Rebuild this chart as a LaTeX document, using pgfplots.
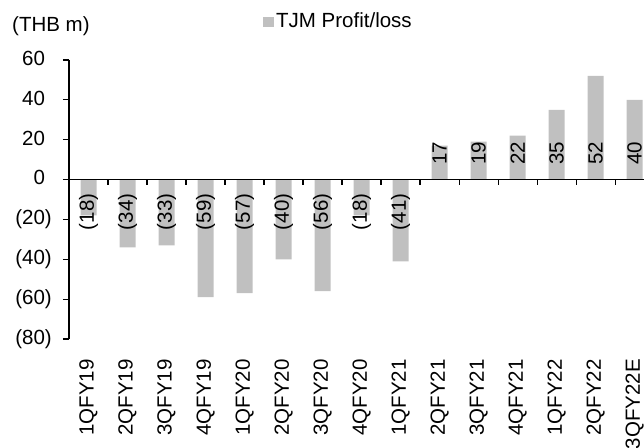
\documentclass[border=0pt]{standalone}
\usepackage{pgfplots}
\pgfplotsset{compat=1.18}
\usepackage{fontspec}
\setmainfont{Liberation Sans}
\definecolor{barc}{HTML}{C0C0C0}
\begin{document}
\fontsize{20.5}{24}\selectfont
\begin{tikzpicture}
\useasboundingbox (-69pt,-108pt) rectangle (575pt,339pt);
\pgfplotsset{
  base/.style={
    scale only axis, width=575pt, height=279pt,
    xmin=-0.5, xmax=14.24, ymin=-80, ymax=60,
    /pgf/number format/assume math mode=true,
  }
}
\begin{axis}[base, at={(0,0)}, anchor=south west,
  axis y line=left, axis x line=bottom,
  x axis line style={draw=none},
  y axis line style={line width=1.2pt, -},
  xtick={0,...,14}, xtick style={draw=none},
  xticklabels={1QFY19,2QFY19,3QFY19,4QFY19,1QFY20,2QFY20,3QFY20,4QFY20,1QFY21,2QFY21,3QFY21,4QFY21,1QFY22,2QFY22,3QFY22E},
  xticklabel style={yshift=-14pt, rotate=90, anchor=east, inner sep=0pt},
  ytick={-80,-60,...,60},
  ytick style={line width=1.2pt, black},
  tick align=outside, major tick length=6pt,
  yticklabel={\pgfmathparse{abs(\tick)}\ifdim\tick pt<0pt (\pgfmathprintnumber[fixed,precision=0]{\pgfmathresult})\else\pgfmathprintnumber[fixed,precision=0]{\pgfmathresult}\phantom{)}\fi},
  yticklabel style={anchor=east, inner sep=0pt, xshift=-11pt},
  legend style={at={(194pt,317pt)}, anchor=west, draw=none, fill=none, inner sep=0pt,
    legend cell align=left, /tikz/every even column/.append style={column sep=0pt}},
  legend image code/.code={\fill[barc] (0pt,-5pt) rectangle (11pt,5pt);},
]
\addplot[ybar, bar width=16pt, fill=barc, draw=none] coordinates {
 (0,-18) (1,-34) (2,-33) (3,-59) (4,-57) (5,-40) (6,-56) (7,-18) (8,-41)
 (9,17) (10,19) (11,22) (12,35) (13,52) (14,40)};
\addlegendentry{TJM Profit/loss}
\addplot[draw=none, mark=none, forget plot, nodes near coords, point meta=explicit symbolic,
  nodes near coords style={rotate=90, anchor=east, inner sep=0pt}]
 table[meta=label] {
x y label
0 -7 (18)
1 -7 (34)
2 -7 (33)
3 -7 (59)
4 -7 (57)
5 -7 (40)
6 -7 (56)
7 -7 (18)
8 -7 (41)
};
\addplot[draw=none, mark=none, forget plot, nodes near coords, point meta=explicit symbolic,
  nodes near coords style={rotate=90, anchor=west, inner sep=0pt}]
 table[meta=label] {
x y label
9 7.5 17
10 7.5 19
11 7.5 22
12 7.5 35
13 7.5 52
14 7.5 40
};
\end{axis}
\begin{axis}[base, at={(0,0)}, anchor=south west,
  axis x line=middle, axis y line=none,
  axis line style={line width=1.2pt, -},
  xtick={0.5,1.5,...,13.5}, xticklabels={},
  xtick style={line width=1.2pt, black},
  x tick label style={draw=none},
  xtick align=outside, major tick length=5pt,
]
\addplot[draw=none, forget plot] coordinates {(0,0)};
\end{axis}
\node[anchor=west, inner sep=0pt] at (-57pt,313pt) {(THB m)};
\end{tikzpicture}
\end{document}
